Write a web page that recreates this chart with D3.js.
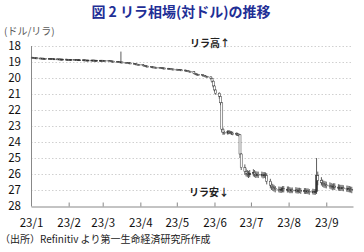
<!DOCTYPE html>
<html>
<head>
<meta charset="utf-8">
<script src="https://cdn.jsdelivr.net/npm/d3@7"></script>
<style>
  body { margin: 0; background: #fff; }
  svg text { font-family: "Noto Sans CJK JP", "Noto Sans", sans-serif; }
</style>
</head>
<body>
<div id="chart"></div>
<script>
// daily USD/TRY candles, 2023 (weekdays, one week per line)
var dates = [
  "01-02","01-03","01-04","01-05","01-06",
  "01-09","01-10","01-11","01-12","01-13",
  "01-16","01-17","01-18","01-19","01-20",
  "01-23","01-24","01-25","01-26","01-27",
  "01-30","01-31","02-01","02-02","02-03",
  "02-06","02-07","02-08","02-09","02-10",
  "02-13","02-14","02-15","02-16","02-17",
  "02-20","02-21","02-22","02-23","02-24",
  "02-27","02-28","03-01","03-02","03-03",
  "03-06","03-07","03-08","03-09","03-10",
  "03-13","03-14","03-15","03-16","03-17",
  "03-20","03-21","03-22","03-23","03-24",
  "03-27","03-28","03-29","03-30","03-31",
  "04-03","04-04","04-05","04-06","04-07",
  "04-10","04-11","04-12","04-13","04-14",
  "04-17","04-18","04-19","04-20","04-21",
  "04-24","04-25","04-26","04-27","04-28",
  "05-01","05-02","05-03","05-04","05-05",
  "05-08","05-09","05-10","05-11","05-12",
  "05-15","05-16","05-17","05-18","05-19",
  "05-22","05-23","05-24","05-25","05-26",
  "05-29","05-30","05-31","06-01","06-02",
  "06-05","06-06","06-07","06-08","06-09",
  "06-12","06-13","06-14","06-15","06-16",
  "06-19","06-20","06-21","06-22","06-23",
  "06-26","06-27","06-28","06-29","06-30",
  "07-03","07-04","07-05","07-06","07-07",
  "07-10","07-11","07-12","07-13","07-14",
  "07-17","07-18","07-19","07-20","07-21",
  "07-24","07-25","07-26","07-27","07-28",
  "07-31","08-01","08-02","08-03","08-04",
  "08-07","08-08","08-09","08-10","08-11",
  "08-14","08-15","08-16","08-17","08-18",
  "08-21","08-22","08-23","08-24","08-25",
  "08-28","08-29","08-30","08-31","09-01",
  "09-04","09-05","09-06","09-07","09-08",
  "09-11","09-12","09-13","09-14","09-15",
  "09-18","09-19","09-20","09-21","09-22"
];
var openVals = [
  18.70,18.71,18.72,18.74,18.74, 18.75,18.76,18.76,18.77,18.77,
  18.78,18.78,18.79,18.79,18.80, 18.80,18.81,18.81,18.82,18.82,
  18.82,18.83,18.83,18.84,18.84, 18.84,18.85,18.85,18.86,18.86,
  18.86,18.87,18.87,18.88,18.88, 18.88,18.88,18.88,18.89,18.89,
  18.89,18.89,18.89,18.90,18.90, 18.91,18.92,18.93,18.94,18.95,
  18.96,18.97,18.98,19.00,19.00, 19.02,19.03,19.04,19.05,19.06,
  19.08,19.10,19.12,19.14,19.15, 19.17,19.20,19.22,19.24,19.26,
  19.28,19.30,19.31,19.32,19.33, 19.34,19.35,19.36,19.37,19.38,
  19.39,19.40,19.42,19.43,19.44, 19.45,19.46,19.47,19.48,19.49,
  19.50,19.52,19.54,19.56,19.58, 19.60,19.70,19.74,19.76,19.78,
  19.79,19.82,19.85,19.88,19.91, 19.93,20.02,20.20,20.50,20.75,
  20.95,21.15,21.55,23.20,23.40, 23.45,23.35,23.40,23.42,23.45,
  23.48,23.50,23.52,23.55,24.75, 25.60,25.85,25.95,26.00,26.05,
  25.95,25.90,26.00,26.05,26.02, 26.05,26.02,26.08,26.05,26.10,
  26.45,26.70,26.80,26.85,26.90, 26.95,26.98,27.00,26.96,26.92,
  26.98,26.95,26.98,27.02,27.00, 27.03,27.00,27.05,27.02,27.04,
  27.06,27.04,27.08,27.06,27.10, 27.12,27.10,27.14,27.10,26.10,
  26.40,26.55,26.60,26.65,26.68, 26.70,26.74,26.78,26.80,26.76,
  26.82,26.86,26.84,26.88,26.86, 26.90,26.94,26.92,26.96,26.98
];
var highVals = [
  18.73,18.74,18.76,18.77,18.77, 18.78,18.78,18.79,18.79,18.80,
  18.80,18.81,18.81,18.82,18.82, 18.83,18.83,18.84,18.84,18.84,
  18.85,18.85,18.86,18.86,18.86, 18.87,18.87,18.88,18.88,18.88,
  18.89,18.89,18.90,18.90,18.90, 18.90,18.90,18.91,18.91,18.91,
  18.91,18.91,18.92,18.92,18.93, 18.94,18.95,18.96,18.97,18.98,
  18.99,19.00,19.02,19.03,19.04, 19.05,19.06,19.07,19.08,19.10,
  19.12,19.14,19.16,19.17,19.19, 19.22,19.24,19.26,19.28,19.30,
  19.32,19.33,19.34,19.35,19.36, 19.37,19.38,19.39,19.40,19.41,
  19.42,19.44,19.45,19.46,19.47, 19.48,19.49,19.50,19.51,19.52,
  19.54,19.56,19.58,19.60,19.63, 19.73,19.76,19.78,19.80,19.82,
  19.85,19.88,19.91,19.94,19.96, 20.10,20.30,20.60,20.85,21.05,
  21.30,21.70,23.40,23.55,23.55, 23.55,23.50,23.52,23.55,23.58,
  23.60,23.62,23.65,25.00,25.75, 26.05,26.15,26.20,26.25,26.20,
  26.15,26.20,26.25,26.22,26.25, 26.22,26.28,26.25,26.30,26.65,
  26.90,27.00,27.05,27.10,27.15, 27.15,27.18,27.18,27.15,27.15,
  27.16,27.15,27.20,27.20,27.20, 27.20,27.22,27.22,27.20,27.24,
  27.24,27.25,27.25,27.26,27.30, 27.28,27.30,27.30,27.25,26.70,
  26.72,26.80,26.85,26.88,26.90, 26.92,26.96,27.00,26.98,27.00,
  27.04,27.05,27.06,27.05,27.08, 27.12,27.13,27.15,27.16,27.20
];
var lowVals = [
  18.68,18.69,18.70,18.72,18.72, 18.73,18.74,18.74,18.75,18.75,
  18.76,18.76,18.77,18.77,18.78, 18.78,18.79,18.79,18.80,18.80,
  18.80,18.81,18.81,18.82,18.82, 18.82,18.83,18.83,18.84,18.84,
  18.84,18.85,18.85,18.86,18.86, 18.86,18.86,18.86,18.87,18.87,
  18.87,18.87,18.87,18.88,18.88, 18.89,18.90,18.91,18.92,18.93,
  18.94,18.95,18.96,18.35,18.98, 19.00,19.01,19.02,19.03,19.04,
  19.06,19.08,19.10,19.12,19.13, 19.15,19.18,19.20,19.22,19.24,
  19.26,19.28,19.29,19.30,19.31, 19.32,19.33,19.34,19.35,19.36,
  19.37,19.38,19.40,19.41,19.42, 19.43,19.44,19.45,19.46,19.47,
  19.48,19.50,19.52,19.54,19.56, 19.58,19.67,19.72,19.74,19.76,
  19.77,19.80,19.83,19.86,19.89, 19.90,19.98,20.15,20.45,20.70,
  20.90,21.10,21.50,23.10,23.30, 23.25,23.25,23.30,23.32,23.35,
  23.40,23.42,23.45,23.50,24.70, 25.40,25.65,25.75,25.80,25.75,
  25.70,25.75,25.82,25.85,25.85, 25.85,25.88,25.88,25.90,25.95,
  26.30,26.52,26.62,26.68,26.75, 26.78,26.80,26.80,26.76,26.75,
  26.78,26.78,26.82,26.85,26.84, 26.82,26.85,26.86,26.86,26.88,
  26.88,26.88,26.90,26.90,26.94, 26.92,26.94,26.94,25.00,25.85,
  26.20,26.35,26.42,26.45,26.48, 26.52,26.56,26.60,26.58,26.58,
  26.64,26.66,26.68,26.68,26.70, 26.72,26.74,26.75,26.78,26.80
];
var closeVals = [
  18.71,18.72,18.74,18.74,18.75, 18.76,18.76,18.77,18.77,18.78,
  18.78,18.79,18.79,18.80,18.80, 18.81,18.81,18.82,18.82,18.82,
  18.83,18.83,18.84,18.84,18.84, 18.85,18.85,18.86,18.86,18.86,
  18.87,18.87,18.88,18.88,18.88, 18.88,18.88,18.89,18.89,18.89,
  18.89,18.89,18.90,18.90,18.91, 18.92,18.93,18.94,18.95,18.96,
  18.97,18.98,19.00,19.00,19.02, 19.03,19.04,19.05,19.06,19.08,
  19.10,19.12,19.14,19.15,19.17, 19.20,19.22,19.24,19.26,19.28,
  19.30,19.31,19.32,19.33,19.34, 19.35,19.36,19.37,19.38,19.39,
  19.40,19.42,19.43,19.44,19.45, 19.46,19.47,19.48,19.49,19.50,
  19.52,19.54,19.56,19.58,19.60, 19.70,19.74,19.76,19.78,19.79,
  19.82,19.85,19.88,19.91,19.93, 20.02,20.20,20.50,20.75,20.95,
  21.15,21.55,23.20,23.40,23.45, 23.35,23.40,23.42,23.45,23.48,
  23.50,23.52,23.55,24.75,25.60, 25.85,25.95,26.00,26.05,25.95,
  25.90,26.00,26.05,26.02,26.05, 26.02,26.08,26.05,26.10,26.45,
  26.70,26.80,26.85,26.90,26.95, 26.98,27.00,26.96,26.92,26.98,
  26.95,26.98,27.02,27.00,27.03, 27.00,27.05,27.02,27.04,27.06,
  27.04,27.08,27.06,27.10,27.12, 27.10,27.14,27.10,26.10,26.40,
  26.55,26.60,26.65,26.68,26.70, 26.74,26.78,26.80,26.76,26.82,
  26.86,26.84,26.88,26.86,26.90, 26.94,26.92,26.96,26.98,27.02
];
var yTicks = [18, 19, 20, 21, 22, 23, 24, 25, 26, 27, 28];
var monthTicks = ["2023-01-01","2023-02-01","2023-03-01","2023-04-01","2023-05-01",
                  "2023-06-01","2023-07-01","2023-08-01","2023-09-01"];

var width = 364, height = 252;
var plotLeft = 31, plotRight = 353, plotTop = 46, plotBottom = 206;
var parse = d3.timeParse("%Y-%m-%d");

var candles = dates.map(function(d, i) {
  return { date: parse("2023-" + d), o: openVals[i], h: highVals[i], l: lowVals[i], c: closeVals[i] };
});

var svg = d3.select("#chart").append("svg")
  .attr("width", width)
  .attr("height", height);

var x = d3.scaleTime()
  .domain([parse("2023-01-01"), parse("2023-09-23")])
  .range([plotLeft, plotRight]);

// reversed: 18 at the top
var y = d3.scaleLinear()
  .domain([18, 28])
  .range([plotTop, plotBottom]);

// title
svg.append("text")
  .attr("x", 181).attr("y", 17)
  .attr("text-anchor", "middle")
  .attr("font-size", 14).attr("font-weight", "bold")
  .attr("fill", "#1f2f96")
  .text("図 2 リラ相場(対ドル)の推移");

svg.append("text")
  .attr("x", 4).attr("y", 35)
  .attr("font-size", 10).attr("fill", "#595959")
  .text("(ドル/リラ)");

// grid lines
svg.append("g")
  .selectAll("line")
  .data(yTicks.filter(function(t) { return t < 28; }))
  .enter().append("line")
  .attr("x1", plotLeft).attr("x2", plotRight)
  .attr("y1", function(d) { return y(d) + 0.5; })
  .attr("y2", function(d) { return y(d) + 0.5; })
  .attr("stroke", "#d0d0d0")
  .attr("stroke-dasharray", "1.5,2");

// y axis labels
svg.append("g")
  .selectAll("text")
  .data(yTicks)
  .enter().append("text")
  .attr("x", 21)
  .attr("y", function(d) { return y(d); })
  .attr("dy", "0.36em")
  .attr("text-anchor", "end")
  .attr("font-size", 11.5)
  .attr("fill", "#111")
  .text(function(d) { return d; });

// x axis
var xAxis = d3.axisBottom(x)
  .tickValues(monthTicks.map(parse))
  .tickFormat(d3.timeFormat("%y/%-m"))
  .tickSizeInner(-4)
  .tickSizeOuter(0)
  .tickPadding(12);

var gx = svg.append("g")
  .attr("transform", "translate(0," + (plotBottom + 0.5) + ")")
  .call(xAxis);
gx.select(".domain").attr("stroke", "#888");
gx.selectAll(".tick line").attr("stroke", "#888");
gx.selectAll(".tick text")
  .attr("font-size", 11.5)
  .attr("fill", "#111")
  .attr("font-family", "\"Noto Sans CJK JP\", sans-serif");

// y axis line
svg.append("line")
  .attr("x1", plotLeft + 0.5).attr("x2", plotLeft + 0.5)
  .attr("y1", plotTop).attr("y2", plotBottom)
  .attr("stroke", "#888");

// candles
var g = svg.append("g").attr("class", "candles");

g.selectAll("line")
  .data(candles)
  .enter().append("line")
  .attr("x1", function(d) { return x(d.date); })
  .attr("x2", function(d) { return x(d.date); })
  .attr("y1", function(d) { return y(d.l); })
  .attr("y2", function(d) { return y(d.h); })
  .attr("stroke", "#333")
  .attr("stroke-width", 0.8);

g.selectAll("rect")
  .data(candles)
  .enter().append("rect")
  .attr("x", function(d) { return x(d.date) - 1; })
  .attr("width", 2)
  .attr("y", function(d) { return y(Math.min(d.o, d.c)); })
  .attr("height", function(d) { return Math.max(1, Math.abs(y(d.o) - y(d.c))); })
  .attr("fill", function(d) { return d.c > d.o ? "#fff" : "#333"; })
  .attr("stroke", "#333")
  .attr("stroke-width", 0.5);

// annotations
svg.append("text")
  .attr("x", 190).attr("y", 47)
  .attr("font-size", 10).attr("font-weight", "bold").attr("fill", "#222")
  .text("リラ高↑");

svg.append("text")
  .attr("x", 189).attr("y", 196)
  .attr("font-size", 10).attr("font-weight", "bold").attr("fill", "#222")
  .text("リラ安↓");

// source
svg.append("text")
  .attr("x", 0).attr("y", 243)
  .attr("font-size", 10).attr("fill", "#222")
  .text("（出所）Refinitiv より第一生命経済研究所作成");
</script>
</body>
</html>
